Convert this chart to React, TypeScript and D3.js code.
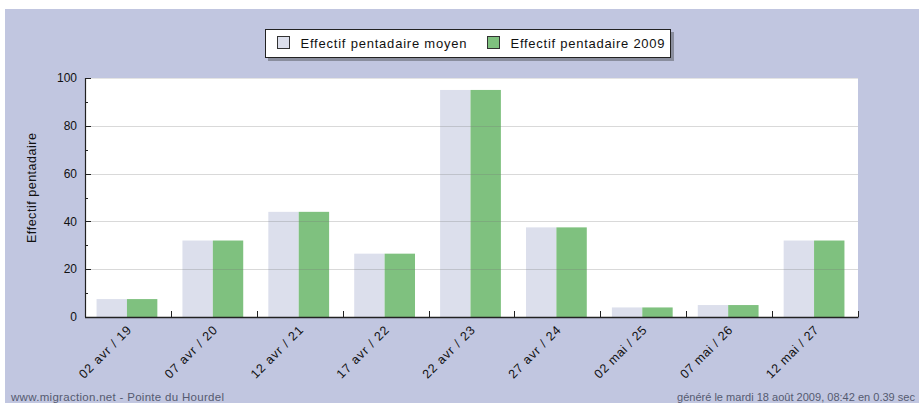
import React from "react";
import * as d3 from "d3";

const categories = [
  "02 avr / 19",
  "07 avr / 20",
  "12 avr / 21",
  "17 avr / 22",
  "22 avr / 23",
  "27 avr / 24",
  "02 mai / 25",
  "07 mai / 26",
  "12 mai / 27",
];
const moyen = [7.5, 32, 44, 26.5, 95, 37.5, 4, 5, 32];
const an2009 = [7.5, 32, 44, 26.5, 95, 37.5, 4, 5, 32];
const seriesNames = ["Effectif pentadaire moyen", "Effectif pentadaire 2009"];
const seriesColors = ["#dcdfec", "#7fc17f"];
const yTicks = [0, 20, 40, 60, 80, 100];
const yMinor = [10, 30, 50, 70, 90];

const W = 919;
const H = 403;
const font = "'Liberation Sans', Arial, sans-serif";

export default function App() {
  const left = 85;
  const right = 858;
  const top = 78;
  const bottom = 317;

  const x = d3.scaleBand().domain(categories).range([left, right]).paddingInner(0).paddingOuter(0);
  const y = d3.scaleLinear().domain([0, 100]).range([bottom, top]);
  const bw = x.bandwidth();
  // two bars side by side, centred a little to the left in each slot
  const inner = d3
    .scaleBand()
    .domain(["0", "1"])
    .range([0, bw - 2])
    .paddingOuter(0.38)
    .paddingInner(0);

  const data = [moyen, an2009];

  return (
    <svg
      width={W}
      height={H}
      style={{ position: "absolute", left: 0, top: 0, display: "block" }}
    >
      <rect x={0} y={0} width={W} height={H} fill="#ffffff" />
      <rect x={5} y={9} width={W - 5} height={H - 9} fill="#c1c6e0" />

      {/* plot area */}
      <rect x={left} y={top} width={right - left} height={bottom - top} fill="#ffffff" />
      <line x1={left} x2={right} y1={top + 0.5} y2={top + 0.5} stroke="#e4e4e4" />

      {/* bars */}
      {data.map((vals, si) =>
        vals.map((v, i) => (
          <rect
            key={`${si}-${i}`}
            x={(x(categories[i]) as number) + (inner(String(si)) as number)}
            y={y(v)}
            width={inner.bandwidth()}
            height={bottom - y(v)}
            fill={seriesColors[si]}
          />
        ))
      )}

      {/* grid over bars */}
      {yTicks
        .filter((t) => t > 0 && t < 100)
        .map((t) => (
          <line
            key={`g${t}`}
            x1={left}
            x2={right}
            y1={Math.round(y(t)) + 0.5}
            y2={Math.round(y(t)) + 0.5}
            stroke="rgba(120,120,120,0.28)"
            strokeWidth={1}
          />
        ))}

      {/* y axis */}
      <line x1={left + 0.5} x2={left + 0.5} y1={top} y2={bottom} stroke="#222" strokeWidth={1.2} />
      {yTicks.map((t) => (
        <g key={`yt${t}`}>
          <line
            x1={left}
            x2={left + 6}
            y1={Math.round(y(t)) + 0.5}
            y2={Math.round(y(t)) + 0.5}
            stroke="#222"
          />
          <text
            x={left - 8}
            y={y(t)}
            dy="0.35em"
            textAnchor="end"
            fontFamily={font}
            fontSize={12}
            fill="#111"
          >
            {t}
          </text>
        </g>
      ))}
      {yMinor.map((t) => (
        <line
          key={`ym${t}`}
          x1={left}
          x2={left + 3}
          y1={Math.round(y(t)) + 0.5}
          y2={Math.round(y(t)) + 0.5}
          stroke="#222"
        />
      ))}
      <text
        transform={`translate(36,188) rotate(-90)`}
        textAnchor="middle"
        fontFamily={font}
        fontSize={12.5}
        textLength={110}
        lengthAdjust="spacing"
        fill="#111"
      >
        Effectif pentadaire
      </text>

      {/* x axis */}
      <line x1={left} x2={right + 0.5} y1={bottom + 0.5} y2={bottom + 0.5} stroke="#222" strokeWidth={1.4} />
      {categories.map((c, i) => {
        const bx = Math.round((x(c) as number) + bw) + 0.5;
        return <line key={`xt${i}`} x1={bx} x2={bx} y1={bottom} y2={bottom - 6} stroke="#222" />;
      })}
      {categories.map((c) => {
        const cx = (x(c) as number) + bw / 2;
        return (
          <text
            key={`xl${c}`}
            transform={`translate(${cx + 1},${bottom + 11}) rotate(-45)`}
            textAnchor="end"
            dy="0.35em"
            fontFamily={font}
            fontSize={12.5}
            textLength={68}
            lengthAdjust="spacing"
            fill="#111"
          >
            {c}
          </text>
        );
      })}

      {/* legend */}
      <rect x={268} y={32} width={406} height={29} fill="#8a8e9e" />
      <rect x={265.5} y={29.5} width={405} height={28} fill="#ffffff" stroke="#222" strokeWidth={1} />
      {seriesNames.map((n, i) => {
        const lx = i === 0 ? 277.5 : 487.5;
        return (
          <g key={n}>
            <rect x={lx} y={36.5} width={12} height={12} fill={seriesColors[i]} stroke="#333" />
            <text
              x={lx + 23}
              y={43}
              dy="0.35em"
              fontFamily={font}
              fontSize={13}
              textLength={i === 0 ? 166 : 154}
              lengthAdjust="spacing"
              fill="#111"
            >
              {n}
            </text>
          </g>
        );
      })}

      {/* footer */}
      <text x={11} y={401} fontFamily={font} fontSize={11.5} textLength={213} lengthAdjust="spacing" fill="#555a70">
        www.migraction.net - Pointe du Hourdel
      </text>
      <text x={677} y={401} fontFamily={font} fontSize={11} textLength={238} lengthAdjust="spacingAndGlyphs" fill="#555a70">
        généré le mardi  18 août 2009, 08:42 en 0.39 sec
      </text>
    </svg>
  );
}
